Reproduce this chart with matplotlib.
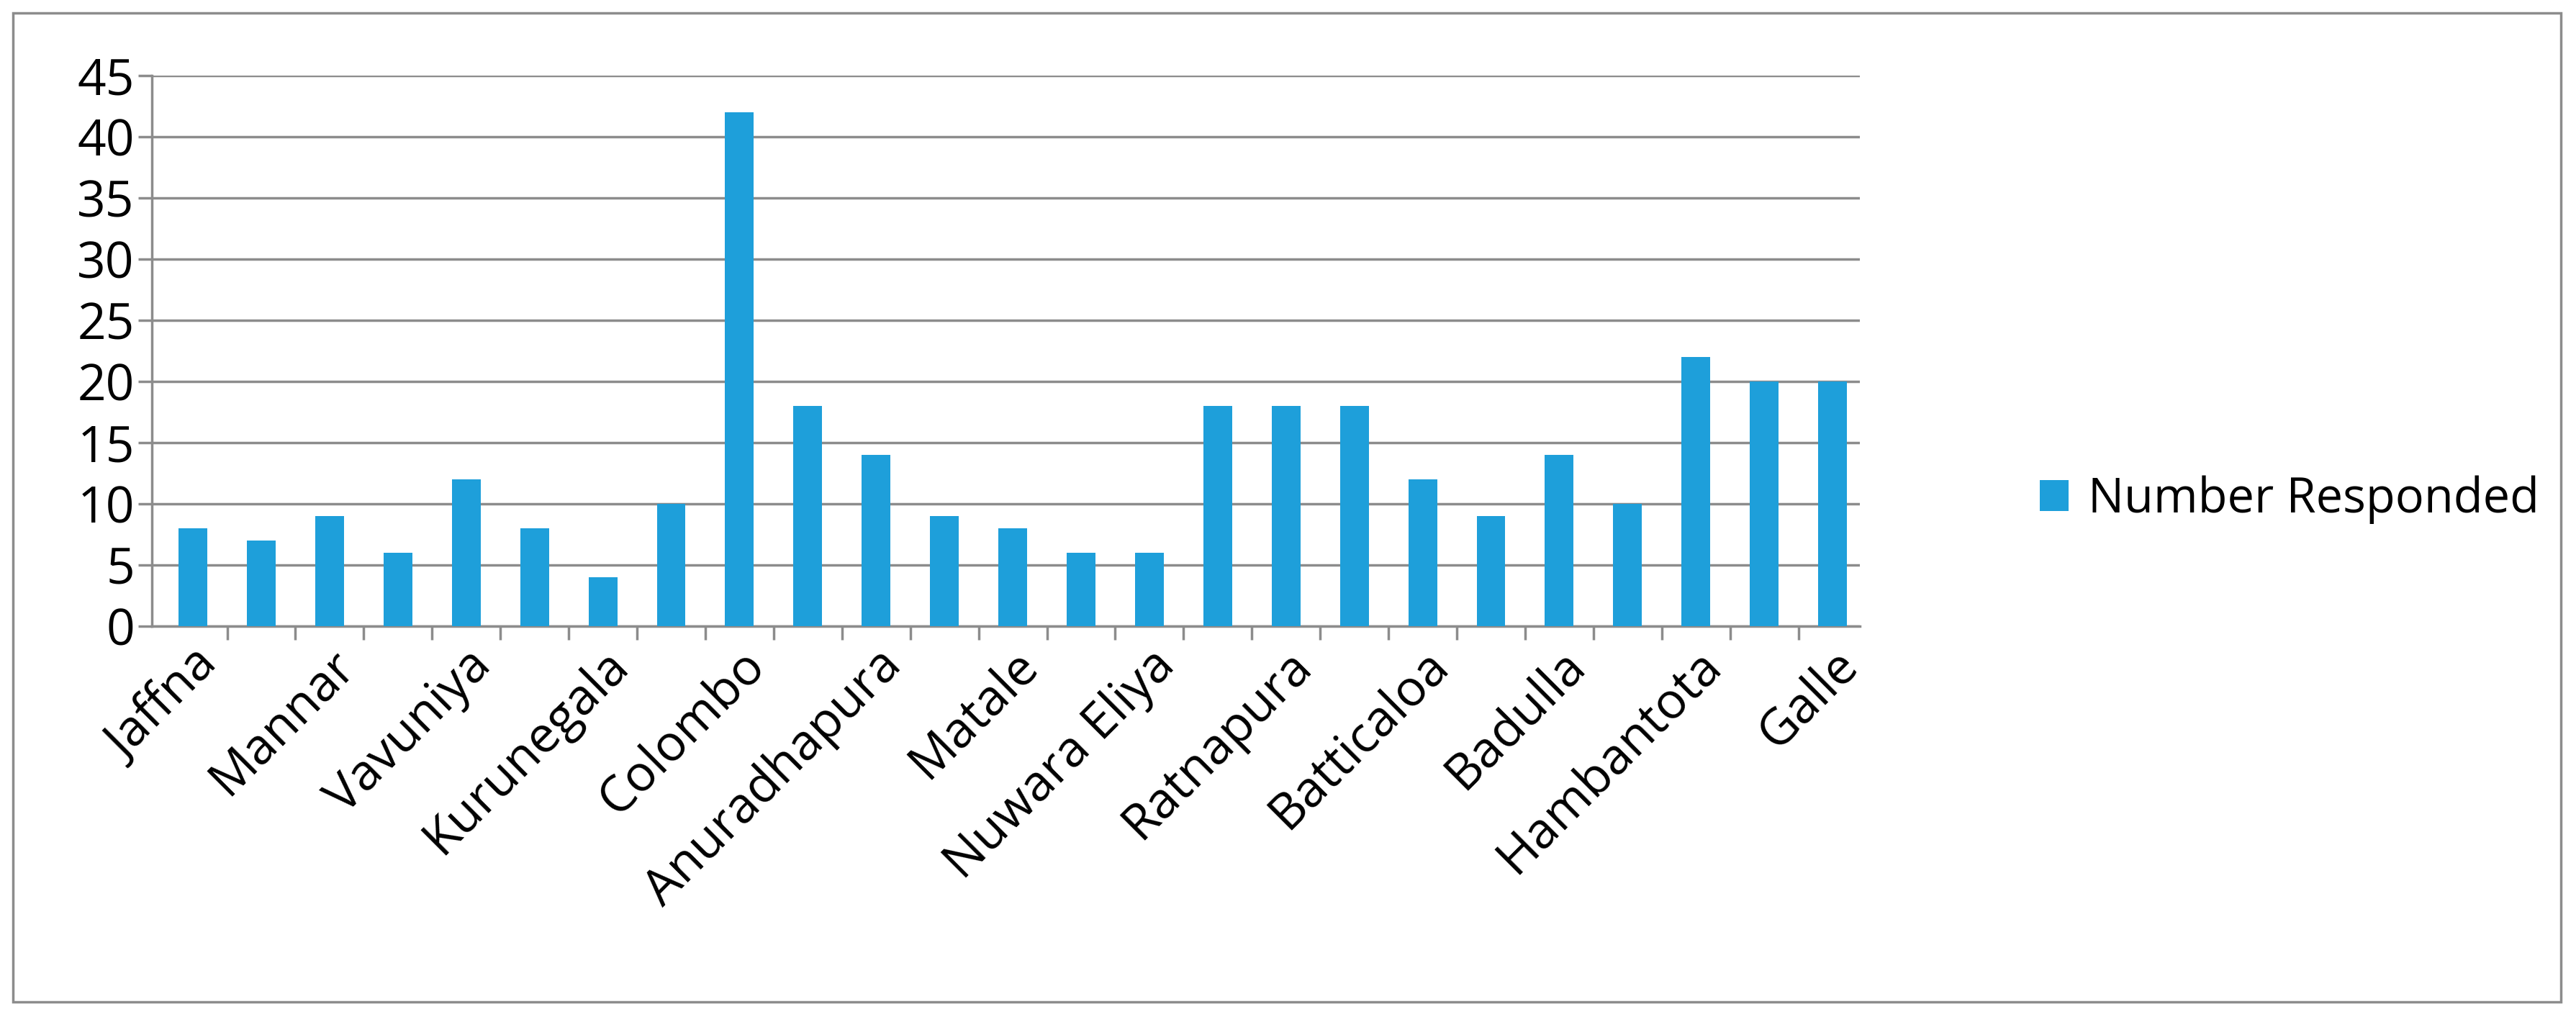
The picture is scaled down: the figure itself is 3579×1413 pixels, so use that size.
import matplotlib.pyplot as plt
from matplotlib.patches import Rectangle

# 25 districts, only every other one is labelled in the source chart
labels = ['Jaffna', '', 'Mannar', '', 'Vavuniya', '', 'Kurunegala', '', 'Colombo', '',
          'Anuradhapura', '', 'Matale', '', 'Nuwara Eliya', '', 'Ratnapura', '', 'Batticaloa', '',
          'Badulla', '', 'Hambantota', '', 'Galle']
responded = [8, 7, 9, 6, 12, 8, 4, 10, 42, 18, 14, 9, 8, 6, 6, 18, 18, 18, 12, 9, 14, 10, 22, 20, 20]

plt.rcParams['font.family'] = ['Open Sans', 'DejaVu Sans']

fig = plt.figure(figsize=(35.79, 14.13), dpi=100)
ax = fig.add_axes([0.059, 0.384, 0.663, 0.542])

x = list(range(len(responded)))
ax.bar(x, responded, width=0.42, color='#1e9fda', label='Number Responded', zorder=3)

ax.set_xlim(-0.6, len(responded) - 0.6)
ax.set_ylim(0, 45)
ax.set_yticks(range(0, 46, 5))
ax.yaxis.grid(True, color='#8c8c8c', linewidth=2.5, zorder=0)
ax.set_xticks(x)
ax.set_xticklabels(labels, rotation=45, ha='right', rotation_mode='anchor')
ax.set_xticks([i + 0.5 for i in x[:-1]], minor=True)
ax.tick_params(axis='x', which='major', length=0, labelsize=50, pad=14)
ax.tick_params(axis='x', which='minor', length=14, width=2.5, color='#8c8c8c')
ax.tick_params(axis='y', labelsize=50, length=14, width=2.5, color='#8c8c8c')
for side in ['top', 'right']:
    ax.spines[side].set_visible(False)
for side in ['left', 'bottom']:
    ax.spines[side].set_color('#8c8c8c')
    ax.spines[side].set_linewidth(2.5)

ax.legend(loc='center left', bbox_to_anchor=(1.08, 0.23), frameon=False,
          fontsize=48, handlelength=0.6, handleheight=0.6, handletextpad=0.4)

fig.patches.append(Rectangle((0.005, 0.015), 0.989, 0.972, transform=fig.transFigure,
                             fill=False, edgecolor='#8c8c8c', linewidth=2.5))

fig.savefig('out.png', dpi=100)
